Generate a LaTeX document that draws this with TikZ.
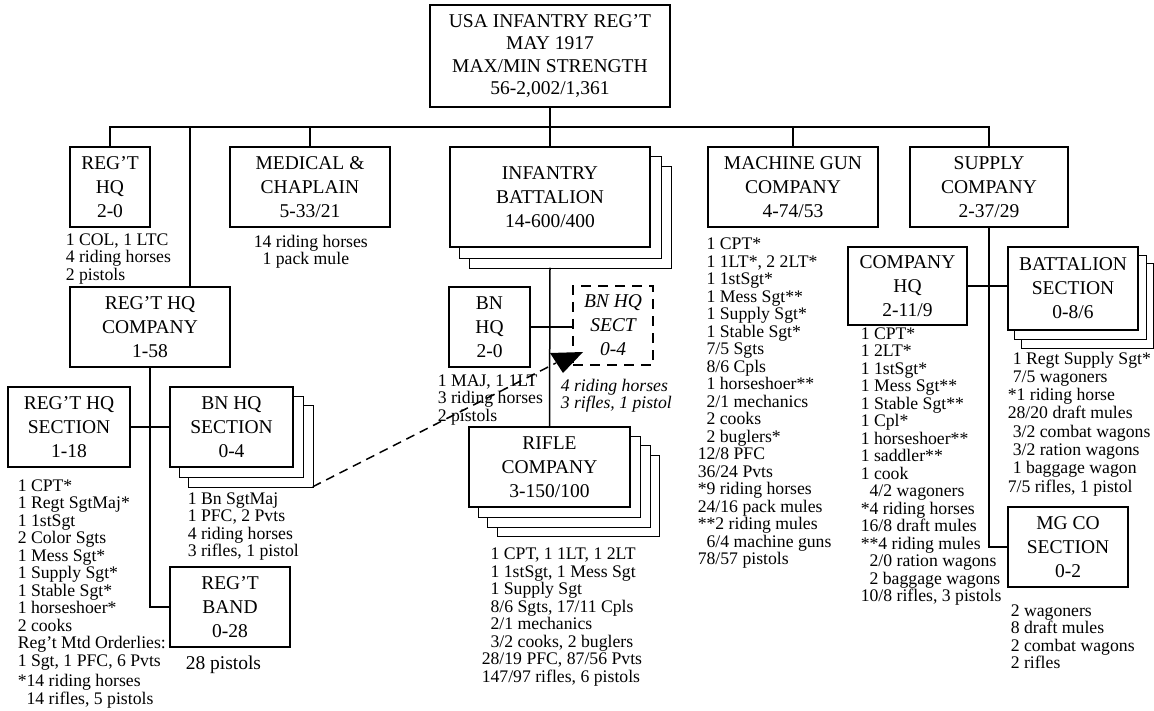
\documentclass[tikz,border=0pt]{standalone}
\usepackage{fontspec}
\setmainfont{Liberation Serif}
\usetikzlibrary{backgrounds}
\newcommand{\boxfont}{\fontsize{19.5}{24}\selectfont}
\newcommand{\listfont}{\fontsize{17.7}{17.5}\selectfont}
\newcommand{\stackcopies}[4]{%
  \begin{scope}[on background layer]
    \foreach \k in {#2,...,1}
      \draw[fill=white] ([shift={(\k*#3,\k*#4)}]#1.north west) rectangle ([shift={(\k*#3,\k*#4)}]#1.south east);
  \end{scope}}

\begin{document}
\begin{tikzpicture}[x=1pt, y=-1pt, line width=1.5pt,
  unit/.style={draw, fill=white, align=center, inner sep=0pt, font=\boxfont},
  info/.style={anchor=north west, align=left, inner sep=0pt, font=\listfont}]
\useasboundingbox (0,0) rectangle (1154,711);
\node[unit, minimum width=240, minimum height=102, font=\fontsize{19.5}{22.5}\selectfont] (top) at (550,56)
  {USA INFANTRY REG’T\\MAY 1917\\MAX/MIN STRENGTH\\56-2,002/1,361};
\node[unit, minimum width=80, minimum height=80] (rhq) at (110,187) {REG’T\\HQ\\2-0};
\node[unit, minimum width=160, minimum height=80] (med) at (310,187) {MEDICAL \&\\CHAPLAIN\\5-33/21};
\node[unit, minimum width=200, minimum height=100] (inf) at (550,197) {INFANTRY\\BATTALION\\14-600/400};
\node[unit, minimum width=170, minimum height=80] (mgc) at (793,187) {MACHINE GUN\\COMPANY\\4-74/53};
\node[unit, minimum width=158, minimum height=80] (sup) at (989,187) {SUPPLY\\COMPANY\\2-37/29};
\node[unit, minimum width=160, minimum height=80] (rhqc) at (150,327) {REG’T HQ\\COMPANY\\1-58};
\node[unit, minimum width=122, minimum height=80] (rhqs) at (69,427) {REG’T HQ\\SECTION\\1-18};
\node[unit, minimum width=123, minimum height=80] (bnhqs) at (231.5,427) {BN HQ\\SECTION\\0-4};
\node[unit, minimum width=120, minimum height=80] (band) at (230,607) {REG’T\\BAND\\0-28};
\node[unit, minimum width=81, minimum height=80] (bnhq) at (489.5,327) {BN\\HQ\\2-0};
\node[unit, minimum width=80, minimum height=79, dash pattern=on 10pt off 7pt, font=\boxfont\itshape] (bnsect) at (613,325.5) {BN HQ\\SECT\\0-4};
\node[unit, minimum width=161, minimum height=80] (rifle) at (549.5,467) {RIFLE\\COMPANY\\3-150/100};
\node[unit, minimum width=119, minimum height=78] (coy) at (907.5,286) {COMPANY\\HQ\\2-11/9};
\node[unit, minimum width=130, minimum height=83] (btn) at (1073,288.5) {BATTALION\\SECTION\\0-8/6};
\node[unit, minimum width=120, minimum height=80] (mgcos) at (1068,547) {MG CO\\SECTION\\0-2};
\stackcopies{inf}{2}{10}{10}
\stackcopies{bnhqs}{2}{9.5}{9.5}
\stackcopies{rifle}{3}{9.5}{9.5}
\stackcopies{btn}{2}{7}{8.5}
\coordinate (bus) at (0,127);
\draw (top.south) -- (top.south |- bus);
\draw (rhq.north) -- (rhq.north |- bus) -- (sup.north |- bus) -- (sup.north);
\foreach \n in {med,inf,mgc} \draw (\n.north) -- (\n.north |- bus);
\draw ([xshift=40]rhqc.north) -- ([xshift=40]rhqc.north |- bus);
\draw (rhqc.south) |- (band.west);
\draw (rhqs.east) -- (bnhqs.west);
\draw ([yshift=-20]inf.south) -- (rifle.north);
\draw (bnhq.east) -- (bnhq.east -| bnsect.west);
\draw (sup.south) |- (mgcos.west);
\draw (coy.east) -- (coy.east -| btn.west);
\coordinate (tip) at (556,363);
\draw[dash pattern=on 9pt off 6pt] ([shift={(19,19)}]bnhqs.south east) -- (tip);
\fill (550,353) -- (583,352) -- (563,373) -- cycle;
\node[info] (rhqinfo) at (65,233) {1 COL, 1 LTC\\4 riding horses\\2 pistols};
\node[info] (medinfo) at (253,234) {14 riding horses\\\phantom{0}1 pack mule};
\node[info] (rhqsinfo) at (17,479) {1 CPT*\\1 Regt SgtMaj*\\1 1stSgt\\2 Color Sgts\\1 Mess Sgt*\\1 Supply Sgt*\\1 Stable Sgt*\\1 horseshoer*\\2 cooks\\Reg’t Mtd Orderlies:\\1 Sgt, 1 PFC, 6 Pvts\\[3pt]*14 riding horses\\\phantom{*}14 rifles, 5 pistols};
\node[info] (bnhqsinfo) at (187,492) {1 Bn SgtMaj\\1 PFC, 2 Pvts\\4 riding horses\\3 rifles, 1 pistol};
\node[info, font=\boxfont] (bandinfo) at (185,655) {28 pistols};
\node[info] (bnhqinfo) at (437,374) {1 MAJ, 1 1LT\\3 riding horses\\2 pistols};
\node[info, font=\listfont\itshape] (bnsectinfo) at (560,378) {4 riding horses\\3 rifles, 1 pistol};
\node[info] (rifleinfo) at (481,547) {\phantom{0}1 CPT, 1 1LT, 1 2LT\\\phantom{0}1 1stSgt, 1 Mess Sgt\\\phantom{0}1 Supply Sgt\\\phantom{0}8/6 Sgts, 17/11 Cpls\\\phantom{0}2/1 mechanics\\\phantom{0}3/2 cooks, 2 buglers\\28/19 PFC, 87/56 Pvts\\147/97 rifles, 6 pistols};
\node[info] (mgcinfo) at (697,237) {\phantom{0}1 CPT*\\\phantom{0}1 1LT*, 2 2LT*\\\phantom{0}1 1stSgt*\\\phantom{0}1 Mess Sgt**\\\phantom{0}1 Supply Sgt*\\\phantom{0}1 Stable Sgt*\\\phantom{0}7/5 Sgts\\\phantom{0}8/6 Cpls\\\phantom{0}1 horseshoer**\\\phantom{0}2/1 mechanics\\\phantom{0}2 cooks\\\phantom{0}2 buglers*\\12/8 PFC\\36/24 Pvts\\*9 riding horses\\24/16 pack mules\\**2 riding mules\\\phantom{0}6/4 machine guns\\78/57 pistols};
\node[info] (coyinfo) at (860,327) {1 CPT*\\1 2LT*\\1 1stSgt*\\1 Mess Sgt**\\1 Stable Sgt**\\1 Cpl*\\1 horseshoer**\\1 saddler**\\1 cook\\\phantom{0}4/2 wagoners\\*4 riding horses\\16/8 draft mules\\**4 riding mules\\\phantom{0}2/0 ration wagons\\\phantom{0}2 baggage wagons\\10/8 rifles, 3 pistols};
\node[info, font=\fontsize{17.7}{18.3}\selectfont] (btninfo) at (1007,351) {\hspace*{5pt}1 Regt Supply Sgt*\\\hspace*{5pt}7/5 wagoners\\*1 riding horse\\28/20 draft mules\\\hspace*{5pt}3/2 combat wagons\\\hspace*{5pt}3/2 ration wagons\\\hspace*{5pt}1 baggage wagon\\7/5 rifles, 1 pistol};
\node[info] (mgcosinfo) at (1010,604) {2 wagoners\\8 draft mules\\2 combat wagons\\2 rifles};
\end{tikzpicture}
\end{document}
